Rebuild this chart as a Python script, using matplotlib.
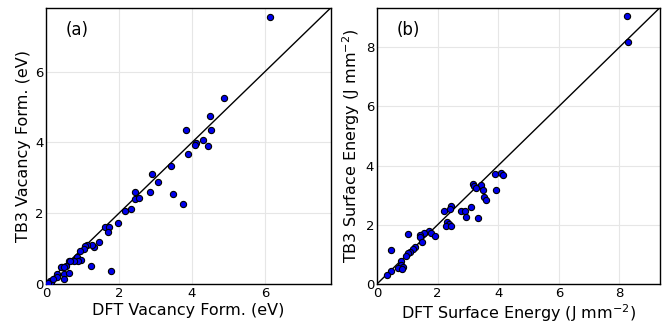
import matplotlib
matplotlib.use("Agg")
import matplotlib.pyplot as plt

# Panel (a): vacancy formation energies (eV)
vac_dft = [6.13, 4.88, 4.49, 3.83, 4.53, 4.29, 4.11, 4.07, 4.44, 3.88,
           3.43, 2.89, 3.08, 2.45, 2.86, 3.48, 2.44, 2.55, 3.76, 2.15,
           2.34, 1.96, 1.61, 1.73, 1.70, 1.44, 1.31, 1.25, 1.13, 1.06,
           1.04, 0.93, 0.85, 0.97, 0.88, 0.76, 0.62, 0.67, 0.55, 0.44,
           0.40, 0.50, 0.48, 0.63, 0.31, 0.31, 0.48, 0.11, 0.14, 1.22,
           1.77, 0.05, 0.20]
vac_tb3 = [7.55, 5.26, 4.74, 4.34, 4.36, 4.07, 3.98, 3.93, 3.89, 3.66,
           3.33, 3.11, 2.87, 2.59, 2.59, 2.54, 2.40, 2.43, 2.25, 2.06,
           2.13, 1.72, 1.60, 1.60, 1.46, 1.18, 1.04, 1.11, 1.11, 1.08,
           0.98, 0.94, 0.77, 0.68, 0.65, 0.64, 0.64, 0.64, 0.52, 0.47,
           0.49, 0.47, 0.28, 0.30, 0.28, 0.21, 0.13, 0.09, 0.06, 0.51,
           0.37, 0.03, 0.15]

# Panel (b): surface energies (J mm^-2)
surf_dft = [8.25, 8.29, 3.90, 4.08, 4.15, 3.18, 3.21, 3.42, 3.27, 3.51,
            3.92, 3.52, 3.61, 2.45, 2.42, 2.20, 2.77, 2.90, 3.09, 2.93,
            3.32, 2.31, 2.37, 2.27, 2.43, 1.01, 1.72, 1.55, 1.42, 1.43,
            1.79, 1.90, 1.49, 0.45, 1.24, 1.18, 1.09, 1.02, 0.95, 0.78,
            0.79, 0.87, 0.70, 0.81, 0.45, 0.32]
surf_tb3 = [9.06, 8.19, 3.73, 3.74, 3.68, 3.38, 3.31, 3.36, 3.24, 3.18,
            3.19, 2.93, 2.83, 2.64, 2.52, 2.48, 2.48, 2.46, 2.60, 2.25,
            2.22, 2.08, 2.03, 1.95, 1.97, 1.70, 1.78, 1.71, 1.64, 1.57,
            1.71, 1.62, 1.42, 1.15, 1.24, 1.17, 1.09, 1.04, 0.95, 0.79,
            0.64, 0.58, 0.53, 0.50, 0.44, 0.30]

lim_a = 7.8
lim_b = 9.33
ticks_a = [0, 2, 4, 6]
ticks_b = [0, 2, 4, 6, 8]

fig = plt.figure(figsize=(6.7, 3.26), dpi=100)
ax1 = fig.add_axes([0.0687, 0.129, 0.425, 0.847])
ax2 = fig.add_axes([0.5627, 0.129, 0.422, 0.847])

panels = [
    (ax1, vac_dft, vac_tb3, lim_a, ticks_a, "(a)",
     "DFT Vacancy Form. (eV)", "TB3 Vacancy Form. (eV)"),
    (ax2, surf_dft, surf_tb3, lim_b, ticks_b, "(b)",
     r"DFT Surface Energy (J mm$^{-2}$)", r"TB3 Surface Energy (J mm$^{-2}$)"),
]

for ax, xd, yd, lim, ticks, tag, xl, yl in panels:
    ax.grid(True, color="#e6e6e6", linewidth=0.8, zorder=0)
    ax.set_axisbelow(True)
    ax.plot([0, lim], [0, lim], color="black", linewidth=1.0, zorder=2)
    ax.scatter(xd, yd, s=20, facecolor="#0000ee", edgecolor="black",
               linewidth=0.8, zorder=3, clip_on=True)
    ax.set_xlim(0, lim)
    ax.set_ylim(0, lim)
    ax.set_xticks(ticks)
    ax.set_yticks(ticks)
    ax.tick_params(direction="in", length=0, labelsize=9.5, pad=2)
    for sp in ax.spines.values():
        sp.set_color("black")
        sp.set_linewidth(1.0)
    ax.set_xlabel(xl, fontsize=11.5, labelpad=2)
    ax.set_ylabel(yl, fontsize=11.5, labelpad=3)
    ax.text(0.07, 0.92, tag, transform=ax.transAxes, fontsize=12,
            va="center", ha="left")

fig.savefig("out.png", dpi=100)
